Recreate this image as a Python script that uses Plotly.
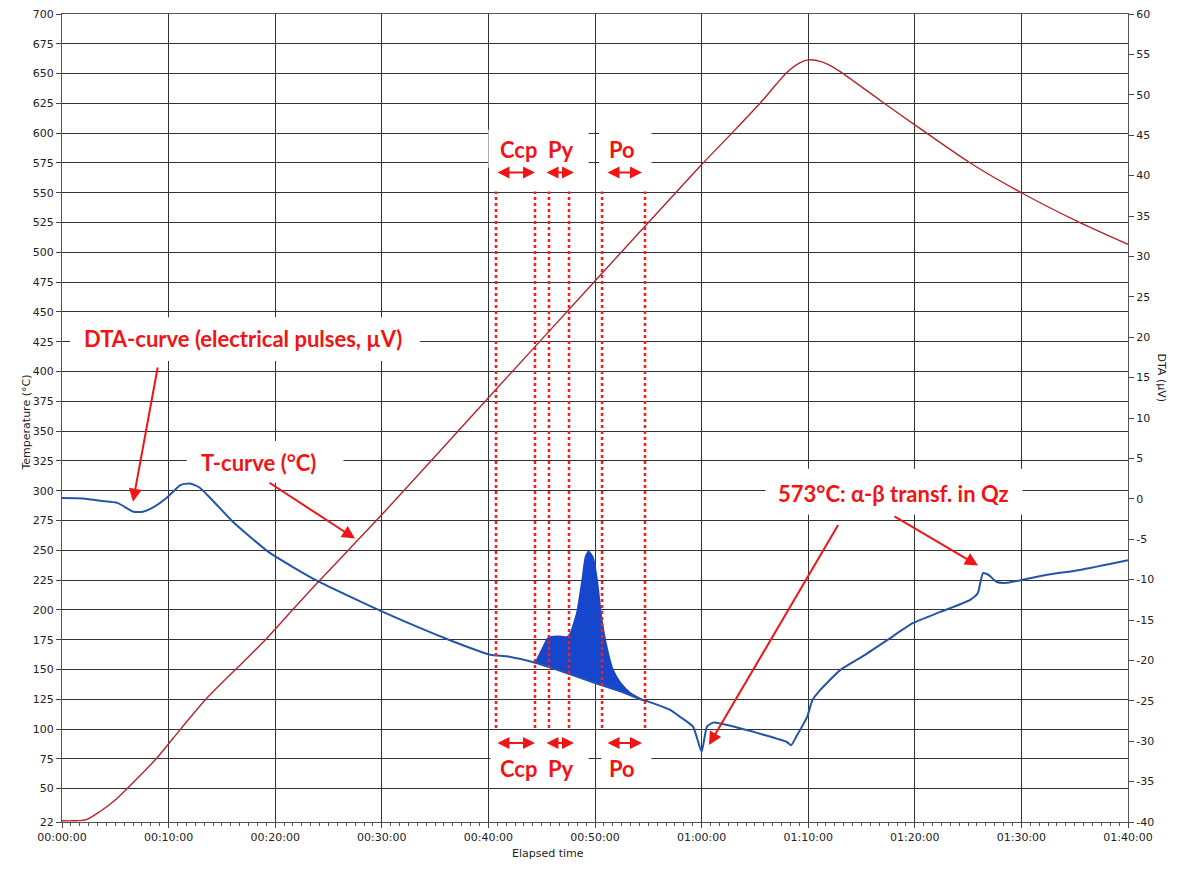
import plotly.graph_objects as go

# ---------------- data ----------------
# Temperature curve (minutes, °C)
t_temp = [0, 1.0, 2.3, 3.6, 4.8, 6.1, 8.9, 11.2, 13.6, 16.4, 19.2, 21.7, 24.2, 30.1, 40.0, 50.0,
          59.85, 63.0, 65.5, 67.0, 68.0, 69.2, 70.0, 70.8, 71.8, 73.0, 76.9, 80.2, 85.2, 90.0, 95.2, 100.0]
temp = [23, 23, 24, 31, 39, 50, 75.7, 100.8, 126, 151, 176, 200.7, 225, 280.8, 378, 476,
        572.2, 601.5, 625.3, 641, 651, 659, 661.5, 661, 658, 651.7, 626.6, 605.7, 575, 550, 526.2, 506.7]

# DTA curve (minutes, µV)
t_dta = [0, 2.0, 3.6, 5.2, 6.7, 7.6, 8.5, 9.8, 11.1, 12.0, 12.9, 14.2, 16.0, 19.5, 24.0, 30.1,
         36.4, 40.2, 41.7, 44.4, 47.0, 50.0, 52.5, 54.5, 55.0, 57.0, 58.0, 59.2, 60.0, 60.5,
         61.1, 63.6, 65.8, 68.0, 68.4, 68.9, 69.9, 70.4, 71.1, 73.0, 75.1, 77.4, 79.8, 82.4,
         85.2, 85.9, 86.4, 86.9, 87.7, 88.6, 90.2, 92.4, 95.5, 100.0]
dta = [0.1, 0.05, -0.25, -0.5, -1.6, -1.6, -1.1, 0.1, 1.7, 1.9, 1.4, -0.3, -2.8, -6.7, -10.2, -14.0,
       -17.5, -19.3, -19.5, -20.3, -21.4, -22.8, -23.9, -24.9, -25.1, -26.1, -27.0, -28.2, -31.3, -28.2,
       -27.7, -28.4, -29.2, -30.1, -30.5, -29.4, -27.0, -24.9, -23.7, -21.2, -19.5, -17.5, -15.4, -14.0,
       -12.5, -11.7, -9.2, -9.4, -10.3, -10.4, -10.0, -9.4, -8.8, -7.6]

# Exothermic peak envelope (minutes, µV) and its baseline
t_peak = [44.4, 45.0, 45.6, 46.5, 47.4, 47.7, 48.3, 48.8, 49.1, 49.4, 49.8, 50.2, 50.6, 51.1,
          51.7, 52.4, 53.3, 54.5]
dta_peak = [-20.3, -18.7, -17.2, -17.0, -17.1, -16.6, -14.1, -10.0, -7.2, -6.5, -7.2, -10.0, -14.6,
            -18.3, -21.2, -22.8, -24.0, -24.9]
t_base = [44.4, 47.0, 50.0, 52.5, 54.5]
dta_base = [-20.3, -21.4, -22.8, -23.9, -24.9]

# Stage boundaries (minutes): Ccp, Py, Po
stage_bounds = [40.71, 44.37, 45.68, 47.56, 50.66, 54.69]
stage_labels = ["Ccp", "Py", "Po"]
stage_label_t = [42.78, 46.81, 52.53]
stage_arrows = [(40.71, 44.37), (45.31, 48.03), (51.03, 54.41)]

# Axis ticks
x_ticks = [0, 10, 20, 30, 40, 50, 60, 70, 80, 90, 100]
x_ticktext = ["00:00:00", "00:10:00", "00:20:00", "00:30:00", "00:40:00", "00:50:00",
              "01:00:00", "01:10:00", "01:20:00", "01:30:00", "01:40:00"]
y_ticks = [22] + list(range(50, 701, 25))
y2_ticks = list(range(-40, 61, 5))

# ---------------- styling ----------------
RED_ANN = "#F01414"
GRID = "#333333"
TICKFONT = dict(family="DejaVu Sans", size=11, color="#222222")
ANNFONT = dict(family="Lato", size=22, color=RED_ANN)

fig = go.Figure()

# peak fill (baseline then envelope filled to baseline)
fig.add_trace(go.Scatter(x=t_base, y=dta_base, mode="lines", yaxis="y2",
                         line=dict(color="#1F4FC0", width=1), showlegend=False, hoverinfo="skip"))
fig.add_trace(go.Scatter(x=t_peak, y=dta_peak, mode="lines", yaxis="y2", fill="tonexty",
                         fillcolor="#1646CC", line=dict(color="#1646CC", width=1.5, shape="spline", smoothing=0.5),
                         showlegend=False))
# DTA curve
fig.add_trace(go.Scatter(x=t_dta, y=dta, mode="lines", yaxis="y2",
                         line=dict(color="#2255AA", width=2, shape="spline", smoothing=0.5),
                         showlegend=False))
# Temperature curve
fig.add_trace(go.Scatter(x=t_temp, y=temp, mode="lines", yaxis="y",
                         line=dict(color="#B5242A", width=1.4, shape="spline", smoothing=0.7),
                         showlegend=False))

shapes = []
annotations = []

def white_box(x0, x1, y0, y1):
    shapes.append(dict(type="rect", xref="x", yref="y", x0=x0, x1=x1, y0=y0, y1=y1,
                       fillcolor="white", line=dict(width=0), layer="between"))

# white label boxes
white_box(0.75, 33.6, 408.8, 445.6)      # DTA label
white_box(11.7, 26.4, 306.7, 341.8)      # T-curve label
white_box(66.0, 90.1, 280.0, 318.4)      # 573 label
white_box(40.0, 49.4, 571.0, 603.0)      # top Ccp/Py
white_box(50.4, 55.3, 571.0, 603.0)      # top Po
white_box(40.2, 49.4, 54.0, 86.0)        # bottom Ccp/Py
white_box(50.6, 55.3, 54.0, 86.0)        # bottom Po

# dotted stage boundaries
for tb in stage_bounds:
    shapes.append(dict(type="line", xref="x", yref="y", x0=tb, x1=tb, y0=100.8, y1=551.0,
                       line=dict(color="#FF1A1A", width=2.5, dash="dot"), layer="above"))

# stage labels and double arrows (top and bottom)
for lab, tl in zip(stage_labels, stage_label_t):
    for yy in (586.2, 66.5):
        annotations.append(dict(x=tl, y=yy, xref="x", yref="y", text="<b>%s</b>" % lab,
                                showarrow=False, font=ANNFONT))
for (a, b) in stage_arrows:
    for yy in (566.9, 88.3):
        annotations.append(dict(x=b, y=yy, ax=a, ay=yy, xref="x", yref="y", axref="x", ayref="y",
                                text="", showarrow=True, arrowhead=2, arrowside="end+start",
                                arrowsize=1.2, arrowwidth=2, arrowcolor=RED_ANN))

# text labels
annotations.append(dict(x=17.0, y=427.5, xref="x", yref="y",
                        text="<b>DTA-curve (electrical pulses, µV)</b>", showarrow=False, font=ANNFONT))
annotations.append(dict(x=18.4, y=323.5, xref="x", yref="y",
                        text="<b>T-curve (°C)</b>", showarrow=False, font=ANNFONT))
annotations.append(dict(x=78.0, y=297.5, xref="x", yref="y",
                        text="<b>573°C: α-β transf. in Qz</b>", showarrow=False, font=ANNFONT))

# pointer arrows (head x,y ; tail ax,ay)
for (hx, hy, tx, ty) in [(6.66, 290.8, 9.0, 404.6),
                         (27.49, 259.8, 19.32, 307.5),
                         (60.69, 86.6, 72.89, 272.4),
                         (85.93, 237.2, 77.95, 279.1)]:
    annotations.append(dict(x=hx, y=hy, ax=tx, ay=ty, xref="x", yref="y", axref="x", ayref="y",
                            text="", showarrow=True, arrowhead=2, arrowsize=1.3, arrowwidth=2,
                            arrowcolor=RED_ANN))

# axis titles
annotations.append(dict(x=-0.0413, y=0.495, xref="paper", yref="paper", text="Temperature (°C)",
                        textangle=-90, showarrow=False, font=dict(family="DejaVu Sans", size=11, color="#222")))
annotations.append(dict(x=1.039, y=0.55, xref="paper", yref="paper", text="DTA (µV)",
                        textangle=90, showarrow=False, font=dict(family="DejaVu Sans", size=11, color="#222")))
annotations.append(dict(x=0.456, y=-0.049, xref="paper", yref="paper", text="Elapsed time",
                        showarrow=False, font=dict(family="DejaVu Sans", size=11, color="#222")))

fig.update_layout(
    width=1167, height=855,
    margin=dict(l=54, r=47, t=6, b=41, autoexpand=False),
    paper_bgcolor="white", plot_bgcolor="white",
    showlegend=False,
    shapes=shapes, annotations=annotations,
    xaxis=dict(range=[0, 100], tickvals=x_ticks, ticktext=x_ticktext, tickfont=TICKFONT,
               showgrid=True, gridcolor=GRID, gridwidth=1, zeroline=False, automargin=False,
               showline=True, linecolor="#555", mirror=True,
               ticks="outside", ticklen=5, tickcolor="#444", ticklabeloverflow="allow",
               minor=dict(dtick=10/12, ticks="outside", ticklen=3, tickcolor="#555", showgrid=False)),
    yaxis=dict(range=[22, 700], tickvals=y_ticks, ticktext=[str(v) for v in y_ticks],
               tickfont=TICKFONT, showgrid=True, gridcolor=GRID, gridwidth=1, zeroline=False,
               showline=True, linecolor="#555", mirror=True, ticklabeloverflow="allow",
               automargin=False, ticks="outside", ticklen=5, tickcolor="#444"),
    yaxis2=dict(range=[-40, 60], overlaying="y", side="right", tickvals=y2_ticks,
                ticktext=[str(v) for v in y2_ticks], tickfont=TICKFONT, ticklabeloverflow="allow",
                showgrid=False, zeroline=False, showline=True, linecolor="#555", automargin=False,
                ticks="outside", ticklen=5, tickcolor="#444"),
)

fig.write_html("out.html")
